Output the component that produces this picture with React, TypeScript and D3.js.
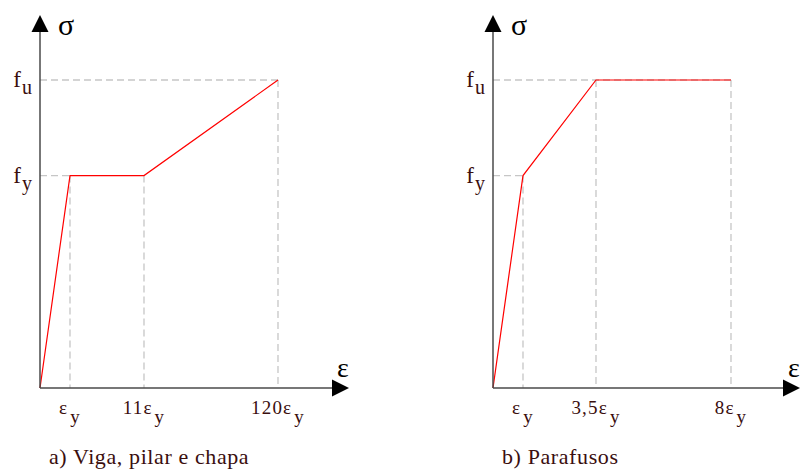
import React from 'react';
import * as d3 from 'd3';

// strain in multiples of eps_y, stress in multiples of f_y
const vigaStrain = [0, 1, 11, 120];
const vigaStress = [0, 1, 1, 1.45];
const vigaTicks = ['', '', '11', '120'];

const parafStrain = [0, 1, 3.5, 8];
const parafStress = [0, 1, 1.45, 1.45];
const parafTicks = ['', '', '3,5', '8'];

const stressLevels = [1.45, 1];
const stressLabels = ['u', 'y'];

const captions = ['a) Viga, pilar e chapa', 'b) Parafusos'];

const FONT = "'Liberation Serif', 'Times New Roman', Times, 'DejaVu Serif', serif";
const TEXT = '#3a0e0e';
const AXIS = '#4a4a4a';
const DASH = '#c6c6c6';

type PanelProps = {
  strain: number[];
  stress: number[];
  ticks: string[];
  range: number[];
  xEnd: number;
  caption: string;
};

const Panel = ({ strain, stress, ticks, range, xEnd, caption }: PanelProps) => {
  const x = d3.scaleLinear().domain(strain).range(range);
  const y = d3.scaleLinear().domain([0, 1.45]).range([388, 80]);
  const x0 = x(0);
  const y0 = y(0);
  const line = d3.line<number>().x((_, i) => x(strain[i])).y((d) => y(d));
  const yTop = 15;
  const ah = 17;

  return (
    <g>
      {/* dashed guides */}
      {strain.slice(1).map((s, i) => (
        <line key={'v' + i} x1={x(s)} x2={x(s)} y1={y(stress[i + 1])} y2={y0}
          stroke={DASH} strokeWidth={1.3} strokeDasharray="7,4" />
      ))}
      {stressLevels.map((lv, i) => {
        const idx = stress.findIndex((v) => v === lv);
        const last = stress.lastIndexOf(lv);
        const xe = lv === stressLevels[0] ? x(strain[last]) : x(strain[idx]);
        return (
          <line key={'h' + i} x1={x0} x2={xe} y1={y(lv)} y2={y(lv)}
            stroke={DASH} strokeWidth={1.3} strokeDasharray="7,4" />
        );
      })}

      {/* curve */}
      <path d={line(stress) || ''} fill="none" stroke="#ff0000" strokeWidth={1.2} />

      {/* axes */}
      <line x1={x0} x2={x0} y1={y0} y2={yTop + ah} stroke={AXIS} strokeWidth={1.5} />
      <path d={`M${x0},${yTop} L${x0 - 8.5},${yTop + ah} L${x0 + 8.5},${yTop + ah} Z`} fill="#000" />
      <line x1={x0} x2={xEnd - ah} y1={y0} y2={y0} stroke={AXIS} strokeWidth={1.5} />
      <path d={`M${xEnd},${y0} L${xEnd - ah},${y0 - 8.5} L${xEnd - ah},${y0 + 8.5} Z`} fill="#000" />

      {/* axis titles */}
      <text x={x0 + 18} y={35} style={{ fontFamily: FONT, fontSize: 30 }} fill="#000">σ</text>
      <text x={xEnd - 12} y={377} style={{ fontFamily: FONT, fontSize: 28 }} fill="#000">ε</text>

      {/* y tick labels */}
      {stressLevels.map((lv, i) => (
        <text key={'yl' + i} x={x0 - 8} y={y(lv) + 7} style={{ fontFamily: FONT, fontSize: 23 }}
          fill={TEXT} textAnchor="end">
          f<tspan dx={1} dy={7} style={{ fontSize: 20 }}>{stressLabels[i]}</tspan>
        </text>
      ))}

      {/* x tick labels */}
      {strain.slice(1).map((s, i) => (
        <text key={'xl' + i} x={x(s)} y={414} style={{ fontFamily: FONT, fontSize: 19, letterSpacing: 1.2 }}
          fill={TEXT} textAnchor="middle">
          {ticks[i + 1]}ε<tspan dx={2} dy={9}>y</tspan>
        </text>
      ))}

      <text x={x0 + 9} y={464} style={{ fontFamily: FONT, fontSize: 22, letterSpacing: 0.6 }} fill={TEXT}>{caption}</text>
    </g>
  );
};

export default function App() {
  return (
    <svg width={800} height={469} style={{ position: 'absolute', left: 0, top: 0, background: '#fff' }}>
      <Panel strain={vigaStrain} stress={vigaStress} ticks={vigaTicks}
        range={[40, 70, 144, 278]} xEnd={349} caption={captions[0]} />
      <Panel strain={parafStrain} stress={parafStress} ticks={parafTicks}
        range={[493, 523, 596, 731]} xEnd={800} caption={captions[1]} />
    </svg>
  );
}
